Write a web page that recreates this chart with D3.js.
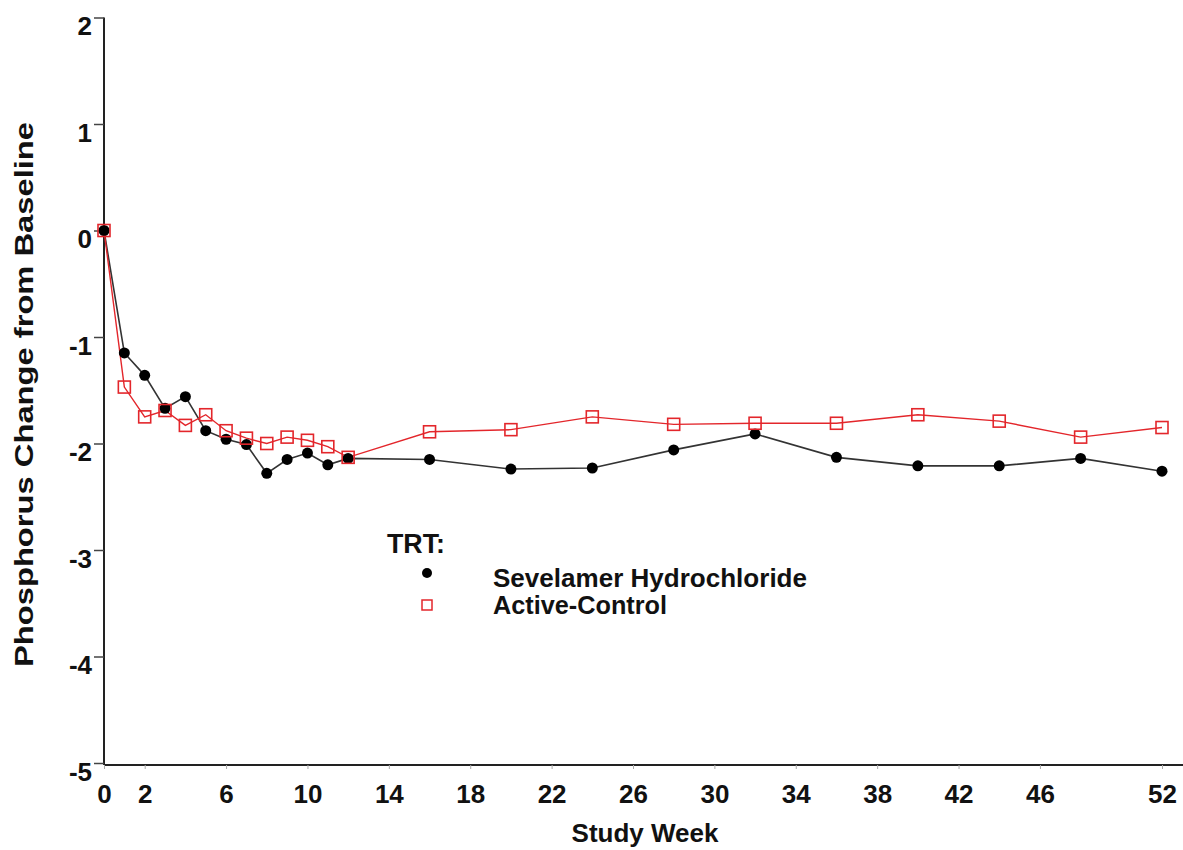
<!DOCTYPE html>
<html>
<head>
<meta charset="utf-8">
<script src="https://cdn.jsdelivr.net/npm/d3@7"></script>
<style>
  body { margin: 0; background: #fff; }
  text { font-family: "Liberation Sans", Arial, sans-serif; font-weight: bold; fill: #111; }
</style>
</head>
<body>
<div class="canvas"></div>
<script>
// data
const weeks = [0, 1, 2, 3, 4, 5, 6, 7, 8, 9, 10, 11, 12, 16, 20, 24, 28, 32, 36, 40, 44, 48, 52];
const sevelamer = [0, -1.15, -1.36, -1.67, -1.56, -1.88, -1.96, -2.01, -2.28, -2.15, -2.09, -2.20, -2.14,
  -2.15, -2.24, -2.23, -2.06, -1.91, -2.13, -2.21, -2.21, -2.14, -2.26];
const activeControl = [0, -1.47, -1.75, -1.69, -1.83, -1.73, -1.88, -1.95, -2.00, -1.94, -1.97, -2.03, -2.13,
  -1.89, -1.87, -1.75, -1.82, -1.81, -1.81, -1.73, -1.79, -1.94, -1.85];
const xTicks = [0, 2, 6, 10, 14, 18, 22, 26, 30, 34, 38, 42, 46, 52];
const yTicks = [2, 1, 0, -1, -2, -3, -4, -5];
const legendTitle = 'TRT:';
const seriesNames = ['Sevelamer Hydrochloride', 'Active-Control'];

const dims = { width: 1183, height: 850 };
const red = '#e3262b';
const font = '"Liberation Sans", Arial, sans-serif';

const svg = d3.select('.canvas')
  .append('svg')
  .attr('width', dims.width)
  .attr('height', dims.height);

const x = d3.scaleLinear().domain([0, 52]).range([104, 1162]);
const y = d3.scaleLinear().domain([-5, 2]).range([763, 17.5]);

// axes
const yAxis = svg.append('g')
  .attr('transform', 'translate(104,0)')
  .call(d3.axisLeft(y).tickValues(yTicks).tickSize(10).tickPadding(2).tickFormat(d => String(d)));
yAxis.select('.domain').attr('d', `M0,${y(2)}V765`).attr('stroke', '#222').attr('stroke-width', 2);
yAxis.selectAll('.tick line').attr('stroke', '#444').attr('stroke-width', 1.5);
yAxis.selectAll('.tick text').attr('font-size', 26).attr('dy', '0.67em').attr('fill', '#111')
  .attr('font-family', font);

const xAxis = svg.append('g')
  .attr('transform', 'translate(0,765)')
  .call(d3.axisBottom(x).tickValues(xTicks).tickSize(4).tickPadding(16));
xAxis.select('.domain').attr('d', `M104,0H${dims.width}`).attr('stroke', '#222').attr('stroke-width', 2);
xAxis.selectAll('.tick line').attr('stroke', '#aaa').attr('stroke-width', 1);
xAxis.selectAll('.tick text').attr('font-size', 26).attr('fill', '#111')
  .attr('font-family', font);

// axis titles
svg.append('text')
  .attr('x', 645).attr('y', 842)
  .attr('text-anchor', 'middle')
  .attr('font-size', 26)
  .text('Study Week');

svg.append('text')
  .attr('transform', 'translate(33,394.5) rotate(-90)')
  .attr('text-anchor', 'middle')
  .attr('font-size', 25)
  .attr('textLength', 545)
  .attr('lengthAdjust', 'spacingAndGlyphs')
  .text('Phosphorus Change from Baseline');

// lines
const line = d3.line()
  .x((d, i) => x(weeks[i]))
  .y(d => y(d));

svg.append('path')
  .datum(sevelamer)
  .attr('fill', 'none')
  .attr('stroke', '#333')
  .attr('stroke-width', 1.6)
  .attr('d', line);

svg.append('path')
  .datum(activeControl)
  .attr('fill', 'none')
  .attr('stroke', red)
  .attr('stroke-width', 1.4)
  .attr('d', line);

svg.append('g').selectAll('circle')
  .data(sevelamer)
  .enter().append('circle')
  .attr('cx', (d, i) => x(weeks[i]))
  .attr('cy', d => y(d))
  .attr('r', 5.5)
  .attr('fill', '#000');

svg.append('g').selectAll('rect')
  .data(activeControl)
  .enter().append('rect')
  .attr('x', (d, i) => x(weeks[i]) - 6)
  .attr('y', d => y(d) - 6)
  .attr('width', 12)
  .attr('height', 12)
  .attr('fill', 'none')
  .attr('stroke', red)
  .attr('stroke-width', 1.6);

// legend
const legend = svg.append('g');
legend.append('text')
  .attr('x', 387).attr('y', 553)
  .attr('font-size', 27)
  .attr('textLength', 58)
  .attr('lengthAdjust', 'spacingAndGlyphs')
  .text(legendTitle);
legend.append('circle')
  .attr('cx', 427).attr('cy', 573).attr('r', 5).attr('fill', '#000');
legend.append('rect')
  .attr('x', 422).attr('y', 600).attr('width', 10).attr('height', 10)
  .attr('fill', 'none').attr('stroke', red).attr('stroke-width', 1.5);
const labLen = [314, 174];
legend.selectAll('.lab')
  .data(seriesNames)
  .enter().append('text')
  .attr('class', 'lab')
  .attr('x', 493)
  .attr('y', (d, i) => 587 + i * 27)
  .attr('font-size', 25)
  .attr('textLength', (d, i) => labLen[i])
  .attr('lengthAdjust', 'spacingAndGlyphs')
  .text(d => d);
</script>
</body>
</html>
